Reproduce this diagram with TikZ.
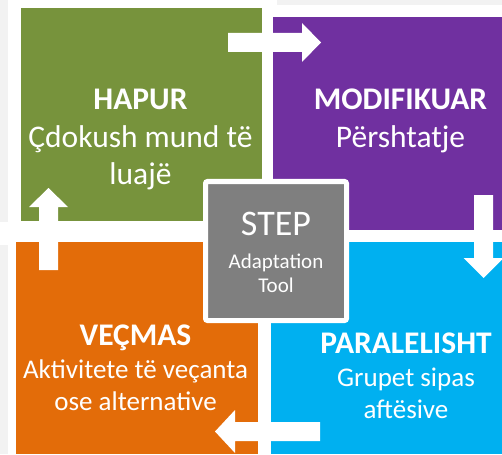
\documentclass[tikz,border=0pt]{standalone}
\usepackage{fontspec}
\setmainfont{Carlito}

\definecolor{hapurgreen}{HTML}{77933C}
\definecolor{modpurple}{HTML}{7030A0}
\definecolor{parablue}{HTML}{00B0F0}
\definecolor{vecorange}{HTML}{E36C09}
\definecolor{stepgray}{HTML}{7F7F7F}
\definecolor{backgray}{HTML}{F2F2F2}

\begin{document}
\begin{tikzpicture}[x=1pt,y=-1pt]
  \tikzset{
    quad/.style={anchor=north west,inner sep=0pt,outer sep=0pt},
    quadtitle/.style={text=white,inner sep=0pt,anchor=base,
      font=\bfseries\fontsize{31.5}{37.5}\selectfont},
    quadtext/.style={text=white,align=center,inner sep=0pt,anchor=base,
      font=\fontsize{31.5}{37}\selectfont},
    lowtext/.style={quadtext,font=\fontsize{27}{32}\selectfont},
    steptext/.style={text=white,inner sep=0pt,anchor=base},
    blockarrow/.style={fill=white,draw=none},
  }
  \useasboundingbox (0,0) rectangle (502,454);
  \fill[white] (0,0) rectangle (502,454);
  \fill[backgray] (0,0) rectangle (8,222);
  \fill[backgray] (0,245) rectangle (8,454);
  \fill[backgray] (277,0) rectangle (502,5);
  % the four quadrants
  \node[quad,fill=hapurgreen,minimum width=241pt,minimum height=213pt] (hapur) at (21,8) {};
  \node[quad,fill=modpurple,minimum width=229pt,minimum height=213pt] (modifikuar) at (273,17) {};
  \node[quad,fill=parablue,minimum width=231pt,minimum height=212pt] (paralelisht) at (271,242) {};
  \node[quad,fill=vecorange,minimum width=242pt,minimum height=212pt] (vecmas) at (16,242) {};
  % arrows between them
  \fill[blockarrow] (228,33) -- (302,33) -- (302,23) -- (321,42.5) -- (302,62) -- (302,52) -- (228,52) -- cycle;
  \fill[blockarrow] (474,195) -- (474,258) -- (463.5,258) -- (483.5,278) -- (503.5,258) -- (493,258) -- (493,195) -- cycle;
  \fill[blockarrow] (320,422) -- (235,422) -- (235,410) -- (215,431.5) -- (235,453) -- (235,441) -- (320,441) -- cycle;
  \fill[blockarrow] (39,270) -- (39,207) -- (29,207) -- (48.5,188) -- (68,207) -- (58,207) -- (58,270) -- cycle;
  % centre box
  \node[draw=white,line width=5pt,fill=stepgray,rounded corners=2pt,
    minimum width=141pt,minimum height=139pt] (step) at (276,251) {};
  \node[steptext,font=\fontsize{36}{40}\selectfont] (steptitle) at (276,235) {STEP};
  \node[steptext,font=\fontsize{21}{24}\selectfont] (stepadapt) at (276,268) {Adaptation};
  \node[steptext,font=\fontsize{21}{24}\selectfont] (steptool) at (276,292) {Tool};
  % texts (base = last line)
  \node[quadtitle] (hapurtitle) at (140.5,110) {HAPUR};
  \node[quadtext] (hapurtext) at (140.5,185) {Çdokush mund të\\luajë};
  \node[quadtitle] (modtitle) at (400.5,110) {MODIFIKUAR};
  \node[quadtext] (modtext) at (400.5,148) {Përshtatje};
  \node[quadtitle] (paratitle) at (406,353) {PARALELISHT};
  \node[lowtext] (paratext) at (406,418) {Grupet sipas\\aftësive};
  \node[quadtitle] (vectitle) at (135.5,345) {VEÇMAS};
  \node[lowtext] (vectext) at (135.5,410) {Aktivitete të veçanta\\ose alternative};
\end{tikzpicture}
\end{document}
